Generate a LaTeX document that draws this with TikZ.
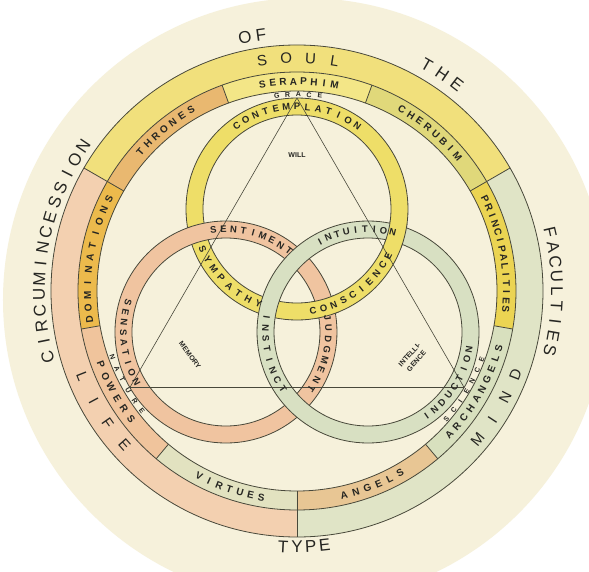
\documentclass[tikz,border=0pt]{standalone}
\usepackage{fontspec}
\setmainfont{Liberation Sans}
\definecolor{paper}{RGB}{246,241,219}
\definecolor{soulc}{RGB}{241,224,124}
\definecolor{lifec}{RGB}{243,208,176}
\definecolor{mindc}{RGB}{224,228,198}
\definecolor{seraphc}{RGB}{243,230,135}
\definecolor{cherubc}{RGB}{224,216,122}
\definecolor{thronec}{RGB}{233,184,112}
\definecolor{dominc}{RGB}{236,186,76}
\definecolor{princc}{RGB}{235,212,82}
\definecolor{powerc}{RGB}{240,196,156}
\definecolor{virtuec}{RGB}{226,226,192}
\definecolor{angelc}{RGB}{232,198,148}
\definecolor{archc}{RGB}{216,224,190}
\definecolor{willc}{RGB}{238,222,104}
\definecolor{memc}{RGB}{240,196,160}
\definecolor{intc}{RGB}{216,224,194}
\definecolor{inkc}{RGB}{72,72,58}
\definecolor{typec}{RGB}{38,38,34}
% letters set one by one round a centre: style, centre, radius, first angle, step, turn
\newcommand{\arcword}[7]{%
  \foreach \lett [count=\idx from 0] in {#7}{%
    \pgfmathsetmacro{\arcang}{#4+\idx*(#5)}%
    \path #2 ++(\arcang:#3) node[#1,rotate=\arcang+#6] {\lett};}}
% annulus sector: inner, outer, from, to, colour
\newcommand{\bandseg}[5]{%
  \fill[#5] (#3:#2) arc[start angle=#3,end angle=#4,radius=#2] -- (#4:#1)
    arc[start angle=#4,end angle=#3,radius=#1] -- cycle;}
\newcommand{\ringfill}[2]{%
  \fill[#2,even odd rule] #1 circle (111) #1 circle (94);
  \draw[rule] #1 circle (111) #1 circle (94);}
\tikzset{rule/.style={inkc,line width=0.8pt}}

\begin{document}
\begin{tikzpicture}[x=1pt,y=1pt,line join=round,
  big/.style={font=\fontsize{17}{17}\selectfont,text=typec,inner sep=0pt},
  bandtag/.style={font=\fontsize{15}{15}\selectfont,text=typec,inner sep=0pt},
  choirtag/.style={font=\bfseries\fontsize{10}{10}\selectfont,text=typec,inner sep=0pt},
  ringtag/.style={font=\bfseries\fontsize{9.5}{9.5}\selectfont,text=typec,inner sep=0pt},
  smalltag/.style={font=\bfseries\fontsize{7}{9.5}\selectfont,text=typec,inner sep=0pt}]
\useasboundingbox (-297,-280) rectangle (292,291);
\fill[white] (-297,-280) rectangle (292,291);
\begin{scope}
\clip (-297,-280) rectangle (292,291);
\fill[paper] (8,-9) circle (302);
\end{scope}
\coordinate (O) at (0,0);
\coordinate (W) at (90:82);
\coordinate (M) at (210:82);
\coordinate (I) at (330:82);
% --- outer band: soul, life, mind
\bandseg{219}{246}{30}{150}{soulc}
\bandseg{219}{246}{150}{270}{lifec}
\bandseg{219}{246}{-90}{30}{mindc}
% --- the nine choirs
\bandseg{200}{219}{70}{110}{seraphc}
\bandseg{200}{219}{30}{70}{cherubc}
\bandseg{200}{219}{110}{150}{thronec}
\bandseg{200}{219}{150}{190}{dominc}
\bandseg{200}{219}{-10}{30}{princc}
\bandseg{200}{219}{190}{230}{powerc}
\bandseg{200}{219}{230}{270}{virtuec}
\bandseg{200}{219}{270}{310}{angelc}
\bandseg{200}{219}{310}{350}{archc}
\draw[rule] (O) circle (246) (O) circle (219) (O) circle (200);
\foreach \a in {30,150,270} \draw[rule] (\a:200) -- (\a:246);
\foreach \a in {70,110,190,230,310,350} \draw[rule] (\a:200) -- (\a:219);
% --- three rings, woven
\ringfill{(W)}{willc}
\ringfill{(M)}{memc}
\ringfill{(I)}{intc}
\foreach \a in {286,346} {\begin{scope} \clip (W) ++(\a:102.5) circle (15); \ringfill{(W)}{willc} \end{scope}}
% --- triangle
\draw[rule,line width=0.6pt] (90:193) -- (210:193) -- (330:193) -- cycle;
% --- outer title
\arcword{big}{(O)}{258}{194.8}{-3.49}{-90}{C,I,R,C,U,M,I,N,C,E,S,S,I,O,N}
\arcword{big}{(O)}{259}{101.6}{-3.6}{-90}{O,F}
\arcword{big}{(O)}{261}{60.2}{-4.0}{-90}{T,H,E}
\arcword{big}{(O)}{260}{13.0}{-3.28}{-90}{F,A,C,U,L,T,I,E,S}
\arcword{big}{(O)}{256}{266.9}{3.1}{90}{T,Y,P,E}
% --- band words
\arcword{bandtag}{(O)}{233}{98.6}{-5.97}{-90}{S,O,U,L}
\arcword{bandtag}{(O)}{231}{201.6}{6.7}{90}{L,I,F,E}
\arcword{bandtag}{(O)}{234}{-39.5}{6.2}{90}{M,I,N,D}
% --- choirs
\arcword{choirtag}{(O)}{209.5}{99.5}{-2.83}{-90}{S,E,R,A,P,H,I,M}
\arcword{choirtag}{(O)}{209.5}{138.4}{-3.0}{-90}{T,H,R,O,N,E,S}
\arcword{choirtag}{(O)}{209.5}{59.9}{-2.84}{-90}{C,H,E,R,U,B,I,M}
\arcword{choirtag}{(O)}{209.5}{187.9}{-3.41}{-90}{D,O,M,I,N,A,T,I,O,N,S}
\arcword{choirtag}{(O)}{209.5}{26.0}{-2.39}{-90}{P,R,I,N,C,I,P,A,L,I,T,I,E,S}
\arcword{choirtag}{(O)}{209.5}{200.6}{3.42}{90}{P,O,W,E,R,S}
\arcword{choirtag}{(O)}{209.5}{242.2}{3.0}{90}{V,I,R,T,U,E,S}
\arcword{choirtag}{(O)}{209.5}{283.0}{3.3}{90}{A,N,G,E,L,S}
\arcword{choirtag}{(O)}{209.5}{-43.3}{3.06}{90}{A,R,C,H,A,N,G,E,L,S}
% --- between rings and choirs
\arcword{smalltag}{(O)}{196.5}{95.9}{-3.15}{-90}{G,R,A,C,E}
\arcword{smalltag}{(O)}{196}{199.7}{3.6}{90}{N,A,T,U,R,E}
\arcword{smalltag}{(O)}{197}{-40.7}{3.38}{90}{S,C,I,E,N,C,E}
% --- ring words
\arcword{ringtag}{(W)}{102.5}{126}{-6}{-90}{C,O,N,T,E,M,P,L,A,T,I,O,N}
\arcword{ringtag}{(W)}{102.5}{203}{6.43}{90}{S,Y,M,P,A,T,H,Y}
\arcword{ringtag}{(W)}{102.5}{279}{5.97}{90}{C,O,N,S,C,I,E,N,C,E}
\arcword{ringtag}{(M)}{102.5}{97}{-5.6}{-90}{S,E,N,T,I,M,E,N,T}
\arcword{ringtag}{(M)}{102.5}{163}{5.75}{90}{S,E,N,S,A,T,I,O,N}
\arcword{ringtag}{(M)}{102.5}{8.2}{-6.0}{-90}{J,U,D,G,M,E,N,T}
\arcword{ringtag}{(I)}{102.5}{118}{-5.25}{-90}{I,N,T,U,I,T,I,O,N}
\arcword{ringtag}{(I)}{102.5}{171.5}{6.07}{90}{I,N,S,T,I,N,C,T}
\arcword{ringtag}{(I)}{102.5}{-55.2}{5.7}{90}{I,N,D,U,C,T,I,O,N}
% --- faculties
\node[smalltag] (will) at (0,136) {WILL};
\node[smalltag,rotate=-53] (memory) at (-107,-64) {MEMORY};
\node[smalltag,rotate=48,align=center] (intel) at (116,-67) {INTELLI-\\GENCE};
\end{tikzpicture}
\end{document}
